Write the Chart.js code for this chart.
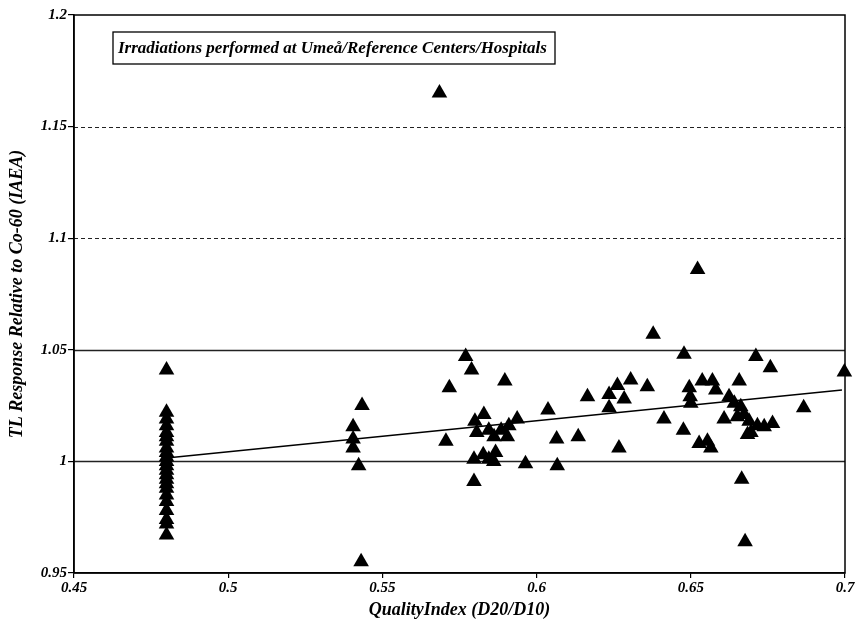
<!DOCTYPE html>
<html>
<head>
<meta charset="utf-8">
<script src="https://cdn.jsdelivr.net/npm/chart.js@4.4.0/dist/chart.umd.min.js"></script>
<style>
  html, body { margin: 0; padding: 0; background: #fff; }
  #wrap { width: 858px; height: 621px; }
</style>
</head>
<body>
<div id="wrap"><canvas id="c" width="858" height="621"></canvas></div>
<script>
// ---- Data ----
const qualityIndex = [
  0.48, 0.48, 0.48, 0.48, 0.48, 0.48, 0.48, 0.48, 0.48, 0.48, 0.48, 0.48,
  0.48, 0.48, 0.48, 0.48, 0.48, 0.48, 0.48, 0.48, 0.48, 0.48, 0.48,
  0.5434, 0.5405, 0.5405, 0.5405, 0.5423, 0.5431,
  0.5685,
  0.5770, 0.5789, 0.5717, 0.5897, 0.5706,
  0.5829, 0.5800, 0.5806, 0.5845, 0.5885, 0.5910, 0.5937, 0.5905, 0.5862,
  0.5797, 0.5827, 0.5867, 0.5861, 0.5845, 0.5964, 0.6067, 0.5797,
  0.6037, 0.6065, 0.6135, 0.6165, 0.6235, 0.6235, 0.6262, 0.6267,
  0.6522, 0.6378, 0.6478, 0.6711, 0.6758, 0.6998,
  0.6305, 0.6359, 0.6284,
  0.6413, 0.6476,
  0.6495, 0.6498, 0.6500,
  0.6537, 0.6570, 0.6581,
  0.6657,
  0.6624, 0.6641, 0.6662, 0.6608, 0.6651, 0.6673, 0.6689, 0.6716, 0.6738, 0.6765, 0.6695, 0.6684,
  0.6866,
  0.6527, 0.6554, 0.6565,
  0.6665, 0.6676
];
const tlResponse = [
  1.041, 1.022, 1.019, 1.016, 1.013, 1.011, 1.009, 1.006, 1.004, 1.002, 1.000, 0.998,
  0.996, 0.994, 0.992, 0.990, 0.988, 0.985, 0.982, 0.978, 0.974, 0.972, 0.967,
  1.025, 1.0155, 1.010, 1.006, 0.998, 0.955,
  1.165,
  1.047, 1.041, 1.033, 1.036, 1.009,
  1.021, 1.018, 1.013, 1.014, 1.014, 1.016, 1.019, 1.011, 1.011,
  1.001, 1.003, 1.004, 1.000, 1.001, 0.999, 0.998, 0.991,
  1.023, 1.010, 1.011, 1.029, 1.030, 1.024, 1.034, 1.006,
  1.086, 1.057, 1.048, 1.047, 1.042, 1.040,
  1.0365, 1.0335, 1.028,
  1.019, 1.014,
  1.033, 1.029, 1.026,
  1.036, 1.036, 1.032,
  1.036,
  1.029, 1.026, 1.0245, 1.019, 1.020, 1.021, 1.018, 1.016, 1.0155, 1.017, 1.013, 1.012,
  1.024,
  1.008, 1.009, 1.006,
  0.992, 0.964
];
const fitX = [0.48, 0.699];
const fitY = [1.0015, 1.032];
const xTicks = [0.45, 0.5, 0.55, 0.6, 0.65, 0.7];
const yTicks = [0.95, 1, 1.05, 1.1, 1.15, 1.2];
const dottedGrid = [1.1, 1.15];
const solidGrid = [1.0, 1.05];
const boxText = 'Irradiations performed at Umeå/Reference Centers/Hospitals';
const xTitle = 'QualityIndex (D20/D10)';
const yTitle = 'TL Response Relative to Co-60 (IAEA)';

const serif = '"Liberation Serif", "DejaVu Serif", serif';

const points = qualityIndex.map((x, i) => ({ x: x, y: tlResponse[i] }));
const fitLine = fitX.map((x, i) => ({ x: x, y: fitY[i] }));

const framePlugin = {
  id: 'frame',
  beforeDatasetsDraw(chart) {
    const { ctx, chartArea: a, scales } = chart;
    ctx.save();
    ctx.strokeStyle = '#222';
    ctx.lineWidth = 1;
    dottedGrid.forEach(v => {
      const y = Math.round(scales.y.getPixelForValue(v)) + 0.5;
      ctx.setLineDash([4, 3]);
      ctx.beginPath(); ctx.moveTo(a.left, y); ctx.lineTo(a.right, y); ctx.stroke();
    });
    ctx.setLineDash([]);
    ctx.lineWidth = 1.3;
    solidGrid.forEach(v => {
      const y = Math.round(scales.y.getPixelForValue(v)) + 0.5;
      ctx.beginPath(); ctx.moveTo(a.left, y); ctx.lineTo(a.right, y); ctx.stroke();
    });
    ctx.strokeStyle = '#000';
    ctx.lineWidth = 1.5;
    ctx.strokeRect(a.left, a.top, a.right - a.left, a.bottom - a.top);
    ctx.restore();
  },
  afterDraw(chart) {
    const { ctx, chartArea: a } = chart;
    ctx.save();
    const bx = a.left + 39, by = a.top + 17, bw = 442, bh = 32;
    ctx.fillStyle = '#fff';
    ctx.fillRect(bx, by, bw, bh);
    ctx.strokeStyle = '#000';
    ctx.lineWidth = 1.3;
    ctx.strokeRect(bx, by, bw, bh);
    ctx.fillStyle = '#000';
    ctx.font = 'italic bold 17px ' + serif;
    ctx.textBaseline = 'middle';
    ctx.textAlign = 'left';
    ctx.fillText(boxText, bx + 5, by + bh / 2 + 1);
    ctx.restore();
  }
};

new Chart(document.getElementById('c'), {
  type: 'scatter',
  data: {
    datasets: [
      {
        type: 'line',
        data: fitLine,
        borderColor: '#000',
        borderWidth: 1.4,
        pointRadius: 0,
        fill: false,
        tension: 0
      },
      {
        data: points,
        pointStyle: 'triangle',
        pointRadius: 9,
        pointHoverRadius: 9,
        backgroundColor: '#000',
        borderColor: '#000',
        borderWidth: 0,
        clip: false
      }
    ]
  },
  options: {
    responsive: false,
    animation: false,
    devicePixelRatio: 1,
    layout: { padding: { top: 15, right: 13, left: 0, bottom: 0 } },
    plugins: { legend: { display: false }, tooltip: { enabled: false } },
    scales: {
      x: {
        type: 'linear',
        min: 0.45, max: 0.7,
        afterBuildTicks: s => { s.ticks = xTicks.map(v => ({ value: v })); },
        afterFit: s => { s.height = 48; },
        ticks: {
          color: '#000',
          font: { family: serif, size: 15, style: 'italic', weight: 'bold' },
          padding: 1,
          maxRotation: 0,
          callback: v => String(+v.toFixed(2))
        },
        grid: { display: true, drawOnChartArea: false, drawTicks: true, tickLength: 5, color: '#000', lineWidth: 1.2 },
        border: { display: true, color: '#000', width: 1.5 },
        title: {
          display: true, text: xTitle, color: '#000',
          font: { family: serif, size: 18, style: 'italic', weight: 'bold' },
          padding: { top: 0, bottom: 0 }
        }
      },
      y: {
        type: 'linear',
        min: 0.95, max: 1.2,
        afterBuildTicks: s => { s.ticks = yTicks.map(v => ({ value: v })); },
        afterFit: s => { s.width = 74; },
        ticks: {
          color: '#000',
          font: { family: serif, size: 15, style: 'italic', weight: 'bold' },
          padding: 1,
          callback: v => String(+v.toFixed(2))
        },
        grid: { display: true, drawOnChartArea: false, drawTicks: true, tickLength: 6, color: '#000', lineWidth: 1.2 },
        border: { display: true, color: '#000', width: 1.5 },
        title: {
          display: true, text: yTitle, color: '#000',
          font: { family: serif, size: 18, style: 'italic', weight: 'bold' },
          padding: { top: 7, bottom: 0 }
        }
      }
    }
  },
  plugins: [framePlugin]
});
</script>
</body>
</html>
